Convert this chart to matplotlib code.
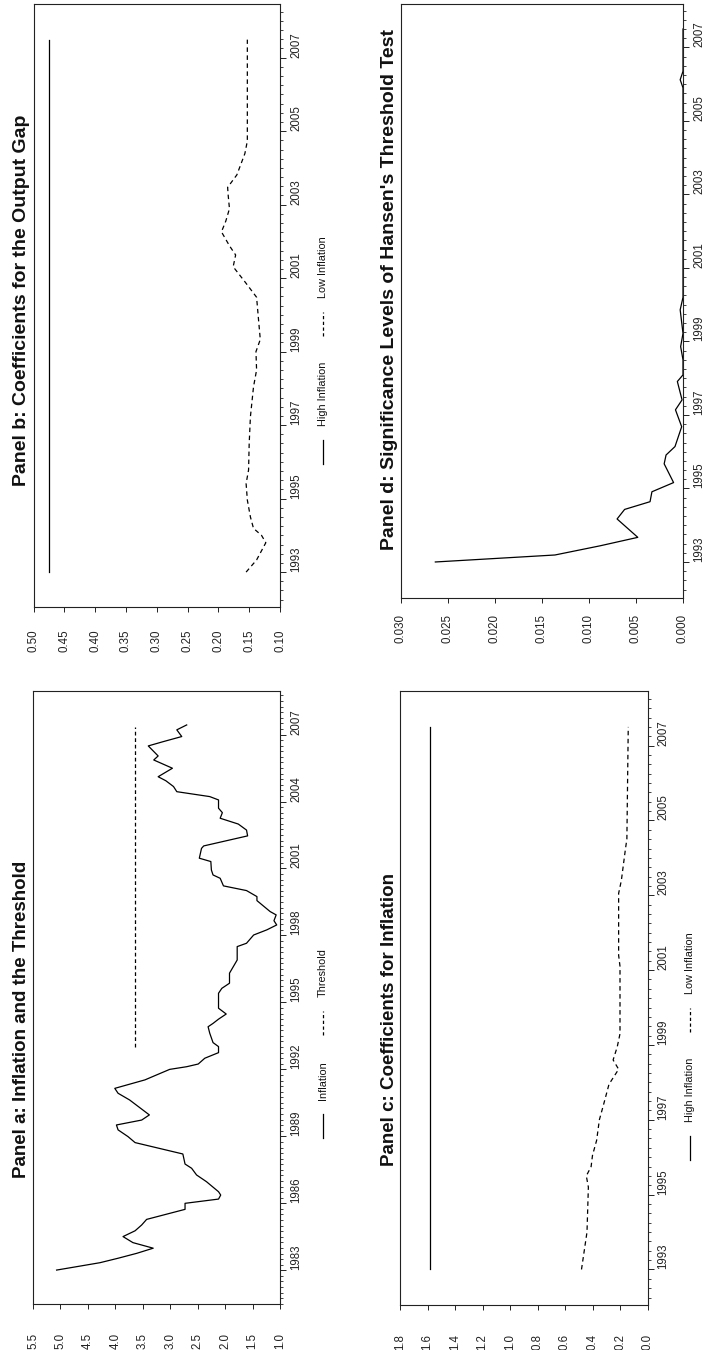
import matplotlib
matplotlib.use('Agg')
import matplotlib.pyplot as plt
from matplotlib import font_manager
from matplotlib.lines import Line2D

# ---------------- data ----------------
# Panel a: inflation and threshold
infl_years = [1983.01, 1983.16, 1983.34, 1983.54, 1983.76, 1983.99, 1984.24, 1984.51, 1984.77, 1985.03,
              1985.28, 1985.73, 1986.00, 1986.19, 1986.37, 1986.52, 1986.97, 1987.27, 1987.57, 1987.76,
              1988.21, 1988.72, 1988.99, 1989.29, 1989.51, 1989.73, 1989.96, 1990.63, 1990.93, 1991.15,
              1991.53, 1991.75, 1992.00, 1992.12, 1992.24, 1992.50, 1992.75, 1993.02, 1993.20, 1993.62,
              1993.91, 1994.06, 1994.25, 1994.48, 1994.74, 1995.41, 1995.63, 1995.86, 1996.31, 1996.90,
              1997.50, 1997.65, 1998.02, 1998.25, 1998.47, 1998.66, 1998.92, 1999.07, 1999.56, 1999.74,
              2000.01, 2000.22, 2000.56, 2000.71, 2000.93, 2001.31, 2001.46, 2001.90, 2002.01, 2002.46,
              2002.72, 2002.99, 2003.25, 2003.50, 2003.70, 2004.07, 2004.22, 2004.44, 2004.67, 2004.93,
              2005.11, 2005.49, 2005.86, 2006.04, 2006.49, 2006.68, 2006.91, 2007.21, 2007.43]
infl_values = [5.07, 4.71, 4.28, 3.95, 3.61, 3.31, 3.68, 3.86, 3.64, 3.52,
               3.43, 2.73, 2.73, 2.12, 2.08, 2.12, 2.34, 2.52, 2.61, 2.73,
               2.77, 3.64, 3.77, 3.95, 3.98, 3.52, 3.38, 3.74, 3.95, 4.01,
               3.46, 3.25, 3.01, 2.70, 2.49, 2.37, 2.12, 2.12, 2.22, 2.28,
               2.31, 2.22, 2.12, 1.98, 2.12, 2.12, 2.06, 1.92, 1.92, 1.78,
               1.78, 1.61, 1.48, 1.24, 1.06, 1.11, 1.07, 1.18, 1.42, 1.42,
               1.61, 2.03, 2.09, 2.22, 2.25, 2.26, 2.47, 2.43, 2.39, 1.59,
               1.61, 1.76, 2.09, 2.05, 2.12, 2.12, 2.28, 2.88, 2.94, 3.08,
               3.22, 2.96, 3.30, 3.22, 3.40, 3.13, 2.79, 2.88, 2.70]
thresh_years = [1993.02, 2007.35]
thresh_values = [3.645, 3.645]

# Panel b: coefficients for the output gap
gap_high_years = [1993.0, 2007.49]
gap_high_values = [0.475, 0.475]
gap_low_years = [1993.00, 1993.33, 1993.80, 1994.00, 1994.19, 1994.50, 1994.96, 1995.41, 1995.78, 1996.50,
                 1997.23, 1998.04, 1998.50, 1999.00, 1999.33, 1999.90, 2000.48, 2000.88, 2001.31, 2001.63,
                 2001.88, 2002.26, 2002.55, 2002.89, 2003.24, 2003.47, 2003.81, 2004.39, 2004.73, 2007.49]
gap_low_values = [0.155, 0.138, 0.123, 0.130, 0.143, 0.148, 0.153, 0.155, 0.151, 0.150,
                  0.148, 0.143, 0.138, 0.139, 0.132, 0.135, 0.138, 0.156, 0.176, 0.172,
                  0.182, 0.195, 0.188, 0.182, 0.184, 0.185, 0.170, 0.157, 0.153, 0.153]

# Panel c: coefficients for inflation
inf_high_years = [1993.0, 2007.5]
inf_high_values = [1.58, 1.58]
inf_low_years = [1993.00, 1993.50, 1994.00, 1995.20, 1995.50, 1995.75, 1996.05, 1996.45, 1997.00, 1997.40,
                 1997.95, 1998.35, 1998.60, 1998.95, 1999.30, 2001.10, 2001.40, 2003.05, 2003.40, 2004.25,
                 2004.50, 2007.50]
inf_low_values = [0.48, 0.46, 0.44, 0.43, 0.445, 0.41, 0.40, 0.37, 0.35, 0.32,
                  0.28, 0.21, 0.25, 0.22, 0.20, 0.20, 0.21, 0.21, 0.19, 0.16,
                  0.15, 0.14]

# Panel d: significance levels of Hansen's threshold test
sig_years = [1993.00, 1993.19, 1993.44, 1993.67, 1994.17, 1994.43, 1994.64, 1994.91, 1995.16, 1995.67,
             1995.91, 1996.14, 1996.68, 1997.14, 1997.41, 1997.91, 1998.09, 1998.50, 1998.86, 1999.22,
             1999.86, 2000.20, 2005.90, 2006.12, 2006.35, 2007.50]
sig_values = [0.0263, 0.0136, 0.0088, 0.0048, 0.0070, 0.0062, 0.0035, 0.0033, 0.0010, 0.0020,
              0.0018, 0.00085, 0.00014, 0.0008, 0.0001, 0.0006, 0.0, 0.0, 0.00025, 0.0,
              0.0003, 0.0, 0.0, 0.0003, 0.0, 0.0]

titles = ["Panel a: Inflation and the Threshold",
          "Panel b: Coefficients for the Output Gap",
          "Panel c: Coefficients for Inflation",
          "Panel d: Significance Levels of Hansen's Threshold Test"]
legend_a = ["Inflation", "Threshold"]
legend_bc = ["High Inflation", "Low Inflation"]

ticks_a_vals = [5.5, 5.0, 4.5, 4.0, 3.5, 3.0, 2.5, 2.0, 1.5, 1.0]
ticks_b_vals = [0.50, 0.45, 0.40, 0.35, 0.30, 0.25, 0.20, 0.15, 0.10]
ticks_c_vals = [1.8, 1.6, 1.4, 1.2, 1.0, 0.8, 0.6, 0.4, 0.2, 0.0]
ticks_d_vals = [0.030, 0.025, 0.020, 0.015, 0.010, 0.005, 0.000]
years_a = [1983, 1986, 1989, 1992, 1995, 1998, 2001, 2004, 2007]
years_bcd = [1993, 1995, 1997, 1999, 2001, 2003, 2005, 2007]

# ---------------- fonts ----------------
def has_font(name):
    try:
        font_manager.findfont(font_manager.FontProperties(family=name), fallback_to_default=False)
        return True
    except Exception:
        return False

BASE = 'Liberation Sans' if has_font('Liberation Sans') else 'DejaVu Sans'
if has_font('Liberation Sans Narrow'):
    NARROW, TICK_FS, LEG_FS = 'Liberation Sans Narrow', 10.0, 9.2
else:
    NARROW, TICK_FS, LEG_FS = BASE, 8.3, 7.8

# ---------------- figure ----------------
W, H = 703, 1350
fig = plt.figure(figsize=(W / 100, H / 100), dpi=100)
fig.patch.set_facecolor('white')

def axes_px(x0, y0, x1, y1):
    return fig.add_axes([x0 / W, 1 - y1 / H, (x1 - x0) / W, (y1 - y0) / H])

def style(ax, vlim, vticks, vfmt, tlim, tmajor):
    ax.set_xlim(vlim[1], vlim[0])          # values grow to the left
    ax.set_ylim(*tlim)                       # years grow upwards
    ax.set_xticks(vticks)
    ax.set_xticklabels([vfmt.format(v) for v in vticks], rotation=90,
                       va='bottom', ha='center', family=NARROW, fontsize=TICK_FS)
    ax.set_yticks(tmajor)
    ax.set_yticklabels([str(t) for t in tmajor], rotation=90,
                       va='bottom', ha='left', family=NARROW, fontsize=TICK_FS)
    q0 = int(tlim[0] * 4) + 1
    q1 = int(tlim[1] * 4)
    ax.set_yticks([q / 4 for q in range(q0, q1 + 1)], minor=True)
    ax.xaxis.set_ticks_position('bottom')
    ax.yaxis.set_ticks_position('right')
    ax.tick_params(axis='x', which='major', direction='out', length=3.8, width=0.7,
                   pad=28.5, colors='#222222')
    ax.tick_params(axis='y', which='major', direction='out', length=4.5, width=0.7,
                   pad=2.8, colors='#222222', labelright=True, labelleft=False)
    ax.tick_params(axis='y', which='minor', direction='out', length=2.3, width=0.6,
                   colors='#222222')
    for sp in ax.spines.values():
        sp.set_linewidth(0.8)
        sp.set_color('#222222')

LW = 0.9
DASH = (0, (3.6, 2.8))

# Panel a
axa = axes_px(33, 691, 280, 1304)
axa.plot(infl_values, infl_years, color='black', lw=LW)
axa.plot(thresh_values, thresh_years, color='black', lw=LW, linestyle=(0, (3.0, 2.2)))
style(axa, (1.0, 5.5), ticks_a_vals, "{:.1f}", (1981.49, 2008.95), years_a)

# Panel b
axb = axes_px(33.5, 4, 280, 607)
axb.plot(gap_high_values, gap_high_years, color='black', lw=LW)
axb.plot(gap_low_values, gap_low_years, color='black', lw=LW, linestyle=DASH)
style(axb, (0.10, 0.50), ticks_b_vals, "{:.2f}", (1992.05, 2008.46), years_bcd)

# Panel c
axc = axes_px(400, 691, 647.5, 1305)
axc.plot(inf_high_values, inf_high_years, color='black', lw=LW)
axc.plot(inf_low_values, inf_low_years, color='black', lw=LW, linestyle=DASH)
style(axc, (0.0, 1.8), ticks_c_vals, "{:.1f}", (1992.05, 2008.46), years_bcd)

# Panel d
axd = axes_px(400.5, 4, 683, 598)
axd.plot(sig_values, sig_years, color='black', lw=LW)
style(axd, (0.0, 0.030), ticks_d_vals, "{:.3f}", (1992.02, 2008.18), years_bcd)

# ---------------- titles ----------------
title_pos = [(22, 1019, 13.5), (22, 300, 14.0), (389, 1019, 13.5), (389, 290, 14.0)]
for (tx, ty, fs), ttl in zip(title_pos, titles):
    fig.text(tx / W, 1 - ty / H, ttl, rotation=90, ha='center', va='center',
             fontsize=fs, fontweight='bold', family=BASE, color='#111111')

# ---------------- legends (drawn vertically) ----------------
renderer = fig.canvas.get_renderer()
SAMPLE, GAP_T, GAP_E = 24, 14, 26

def legend_len(labels):
    total = 0
    for lab in labels:
        t = fig.text(0, 0, lab, rotation=90, fontsize=LEG_FS, family=NARROW)
        total += t.get_window_extent(renderer).height
        t.remove()
    return total + 2 * (SAMPLE + GAP_T) + GAP_E

def draw_legend(x, ycenter, labels, styles):
    y = ycenter + legend_len(labels) / 2.0
    for lab, ls in zip(labels, styles):
        fig.add_artist(Line2D([x / W, x / W], [1 - y / H, 1 - (y - SAMPLE) / H],
                              transform=fig.transFigure, color='black', lw=LW, linestyle=ls))
        y -= SAMPLE + GAP_T
        t = fig.text(x / W, 1 - y / H, lab, rotation=90, ha='center', va='bottom',
                     fontsize=LEG_FS, family=NARROW, color='#111111')
        y -= t.get_window_extent(renderer).height + GAP_E

draw_legend(323, 1043, legend_a, ['-', (0, (2.6, 2.0))])
draw_legend(323, 350, legend_bc, ['-', (0, (2.6, 2.0))])
draw_legend(690, 1046, legend_bc, ['-', (0, (2.6, 2.0))])

fig.savefig('out.png', dpi=100, facecolor='white')
